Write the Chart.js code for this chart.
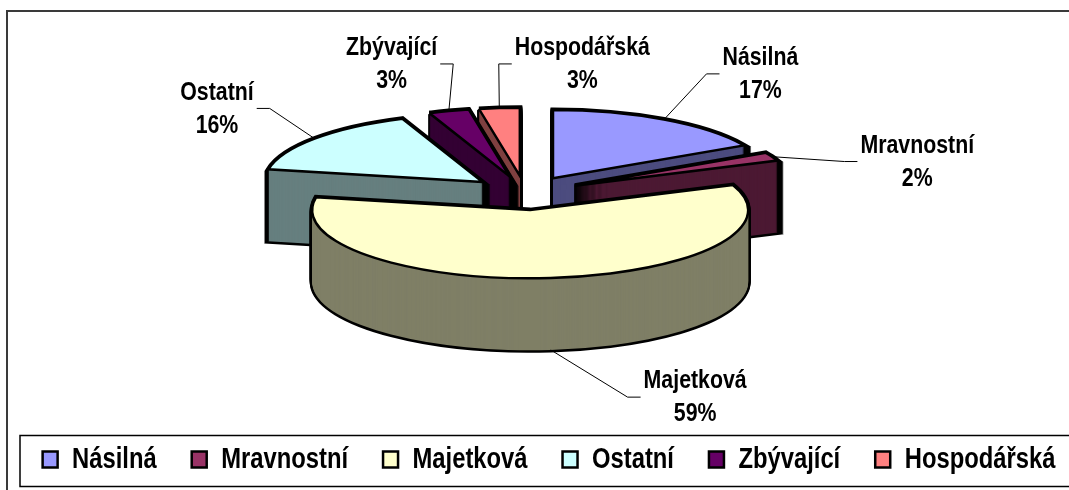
<!DOCTYPE html>
<html>
<head>
<meta charset="utf-8">
<script src="https://cdn.jsdelivr.net/npm/chart.js@4"></script>
<style>
  html, body { margin: 0; padding: 0; background: #fff; overflow: hidden; }
</style>
</head>
<body>
<canvas id="pie-chart" width="1098" height="505"></canvas>
<script>
// data (percent shares, clockwise from 12 o'clock)
var categories = ['Násilná', 'Mravnostní', 'Majetková', 'Ostatní', 'Zbývající', 'Hospodářská'];
var shares = [17, 2, 59, 16, 3, 3];
var sliceColors = ['#9999FF', '#993366', '#FFFFCC', '#CCFFFF', '#660066', '#FF8080'];

// no Arial Narrow here: Liberation Sans squeezed to 82% has the same metrics
var FONT = "'Liberation Sans', Arial, sans-serif";
var NARROW = 0.82;

// 3d look: pie centre on screen, tilt, explode distance and wall height
var view = { cx: 525, cy: 193, tilt: 0.3125, explode: 55, depth: 72 };
// where Excel put the data labels: [angle from 12 o'clock (deg), distance from centre]
var labelSpots = [[31.7, 448], [75.6, 405], [165.4, 675], [311.3, 410], [342.1, 434], [7.9, 417]];

function darker(hex) {
    var n = parseInt(hex.slice(1), 16);
    var r = (n >> 16) >> 1, g = ((n >> 8) & 255) >> 1, b = (n & 255) >> 1;
    return 'rgb(' + r + ',' + g + ',' + b + ')';
}

var proto = CanvasRenderingContext2D.prototype;
function narrowOn(ctx) {
    ctx.fillText = function (text, x, y) {
        this.save();
        this.translate(x, y);
        this.scale(NARROW, 1);
        proto.fillText.call(this, text, 0, 0);
        this.restore();
    };
    ctx.measureText = function (text) {
        var m = proto.measureText.call(this, text);
        return { width: m.width * NARROW, actualBoundingBoxAscent: m.actualBoundingBoxAscent,
                 actualBoundingBoxDescent: m.actualBoundingBoxDescent };
    };
}
function narrowOff(ctx) {
    delete ctx.fillText;
    delete ctx.measureText;
}

function drawArcAt(chart, arc, d, over) {
    var ctx = chart.ctx;
    var m = (arc.startAngle + arc.endAngle) / 2;
    ctx.save();
    ctx.translate(view.cx, view.cy + d);
    ctx.scale(1, view.tilt);
    ctx.translate(Math.cos(m) * view.explode - arc.x, Math.sin(m) * view.explode - arc.y);
    var saved = arc.options;
    arc.options = Object.assign({}, saved, over);
    arc.draw(ctx);
    arc.options = saved;
    ctx.restore();
}

var pie3d = {
    id: 'pie3d',
    beforeLayout: function (chart) { narrowOn(chart.ctx); },
    afterLayout: function (chart) { narrowOff(chart.ctx); },
    beforeDraw: function (chart) { narrowOn(chart.ctx); },
    beforeDatasetsDraw: function (chart) {
        var ctx = chart.ctx;
        narrowOff(ctx);
        var arcs = chart.getDatasetMeta(0).data;
        var dpr = chart.currentDevicePixelRatio || 1;
        // strokes are done untransformed so the tilt doesn't thin the outline
        ctx.stroke = function () {
            this.save();
            this.setTransform(dpr, 0, 0, dpr, 0, 0);
            proto.stroke.call(this);
            this.restore();
        };
        // back slices first
        var order = arcs.map(function (a, i) { return i; }).sort(function (i, j) {
            var a = arcs[i], b = arcs[j];
            return Math.sin((a.startAngle + a.endAngle) / 2) - Math.sin((b.startAngle + b.endAngle) / 2);
        });
        order.forEach(function (i) {
            var arc = arcs[i];
            var d;
            for (d = view.depth; d >= 0; d--) {
                drawArcAt(chart, arc, d, { backgroundColor: 'rgba(0,0,0,0)', borderColor: '#000', borderWidth: 5 });
            }
            for (d = view.depth; d >= 1; d--) {
                drawArcAt(chart, arc, d, { backgroundColor: darker(sliceColors[i]), borderWidth: 0 });
            }
            drawArcAt(chart, arc, 0, {});
        });
        delete ctx.stroke;
        return false;
    },
    afterDraw: function (chart) {
        var ctx = chart.ctx;
        var arcs = chart.getDatasetMeta(0).data;
        var total = shares.reduce(function (s, v) { return s + v; }, 0);
        ctx.save();
        narrowOn(ctx);
        // data labels with leader lines
        ctx.font = 'bold 26px ' + FONT;
        ctx.textAlign = 'center';
        ctx.textBaseline = 'middle';
        arcs.forEach(function (arc, i) {
            var m = (arc.startAngle + arc.endAngle) / 2;
            var r = view.explode + arc.outerRadius;
            var d = Math.sin(m) > 0 ? view.depth : 0;
            var ax = view.cx + Math.cos(m) * r;
            var ay = view.cy + d + Math.sin(m) * r * view.tilt;
            var a = labelSpots[i][0] * Math.PI / 180, dist = labelSpots[i][1];
            var lx = view.cx + Math.sin(a) * dist;
            var ly = view.cy - Math.cos(a) * dist * view.tilt;
            var t1 = categories[i], t2 = Math.round(shares[i] / total * 100) + '%';
            var w = Math.max(ctx.measureText(t1).width, ctx.measureText(t2).width);
            var edge, elbow;
            if (lx > ax) { edge = lx - w / 2 - 3; elbow = edge - 13; }
            else { edge = lx + w / 2 + 3; elbow = edge + 13; }
            ctx.strokeStyle = '#000';
            ctx.lineWidth = 1;
            ctx.beginPath();
            ctx.moveTo(ax, ay);
            ctx.lineTo(elbow, ly);
            ctx.lineTo(edge, ly);
            ctx.stroke();
            ctx.fillStyle = '#000';
            ctx.fillText(t1, lx, ly - 16);
            ctx.fillText(t2, lx, ly + 17);
        });
        narrowOff(ctx);
        // legend frame
        var lg = chart.legend;
        if (lg && lg.legendHitBoxes && lg.legendHitBoxes.length) {
            var hb = lg.legendHitBoxes[0];
            var mid = hb.top + hb.height / 2;
            ctx.strokeStyle = '#000';
            ctx.lineWidth = 1.5;
            ctx.strokeRect(20, Math.round(mid - 25) + 0.5, chart.width - 40, 51);
        }
        // outer chart frame
        ctx.strokeStyle = '#3a3a3a';
        ctx.lineWidth = 2;
        ctx.strokeRect(7, 11, chart.width - 14, chart.height - 14);
        ctx.restore();
    }
};

var ctx = document.getElementById('pie-chart').getContext('2d');
var myChart = new Chart(ctx, {
    type: 'pie',
    data: {
        labels: categories,
        datasets: [{
            data: shares,
            backgroundColor: sliceColors,
            borderColor: '#000',
            borderWidth: 2.5,
            borderJoinStyle: 'miter'
        }]
    },
    options: {
        responsive: false,
        animation: false,
        events: [],
        radius: 218,
        layout: { padding: { bottom: 21 } },
        plugins: {
            tooltip: { enabled: false },
            legend: {
                position: 'bottom',
                labels: {
                    color: '#000',
                    font: { family: FONT, size: 29, weight: 'bold' },
                    boxWidth: 15,
                    boxHeight: 16,
                    padding: 35
                }
            }
        }
    },
    plugins: [pie3d]
});
</script>
</body>
</html>
